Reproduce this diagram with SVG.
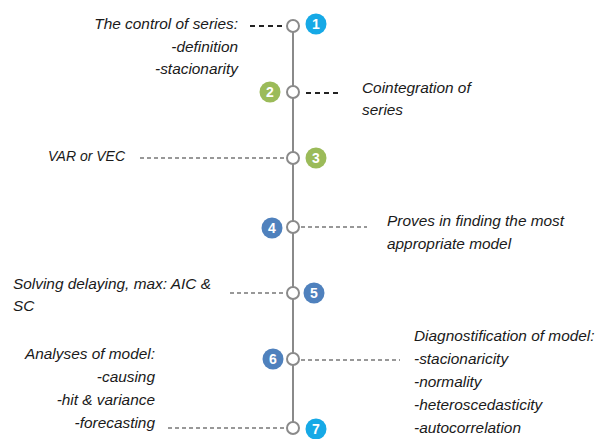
<svg xmlns="http://www.w3.org/2000/svg" width="602" height="439" viewBox="0 0 602 439">
<style>
.t{font-family:"Liberation Sans",Arial,sans-serif;font-style:italic;font-size:15.4px;fill:#1a1a1a}
.r{text-anchor:end}
.ring{fill:#fff;stroke:#8a8a8a;stroke-width:2}
.n{font-family:"Liberation Sans",Arial,sans-serif;font-weight:bold;font-size:14px;fill:#fff;text-anchor:middle}
.d1{stroke:#222;stroke-width:1.8;stroke-dasharray:5 4;fill:none}
.d2{stroke:#333;stroke-width:1.2;stroke-dasharray:4 3;fill:none}
.cyan{fill:#16A9E6}.green{fill:#9BBB59}.blue{fill:#4F81BD}
</style>
<rect width="602" height="439" fill="#fff"/>
<g id="connectors">
<line x1="293" y1="27" x2="293" y2="428" stroke="#8a8a8a" stroke-width="2"/>
<line class="d1" x1="250" y1="26" x2="286" y2="26"/>
<line class="d1" x1="306" y1="93" x2="339" y2="93"/>
<line class="d2" x1="140" y1="158" x2="286" y2="158"/>
<line class="d2" x1="301" y1="227" x2="367" y2="227"/>
<line class="d2" x1="230" y1="293" x2="286" y2="293"/>
<line class="d2" x1="301" y1="360" x2="400" y2="360"/>
<line class="d2" x1="168" y1="428" x2="286" y2="428"/>
</g>
<g id="node1">
<circle class="ring" cx="293" cy="26" r="6"/>
<circle class="cyan" cx="316" cy="24" r="10.5"/>
<text class="n" x="316" y="29">1</text>
<text class="t r" x="238" y="29">The control of series:</text>
<text class="t r" x="238" y="52">-definition</text>
<text class="t r" x="238" y="74">-stacionarity</text>
</g>
<g id="node2">
<circle class="ring" cx="293" cy="92" r="6"/>
<circle class="green" cx="270" cy="92" r="10.5"/>
<text class="n" x="270" y="97">2</text>
<text class="t" x="362" y="93">Cointegration of</text>
<text class="t" x="362" y="115">series</text>
</g>
<g id="node3">
<circle class="ring" cx="293" cy="158" r="6"/>
<circle class="green" cx="316" cy="158" r="10.5"/>
<text class="n" x="316" y="163">3</text>
<text class="t" x="48" y="161" textLength="77" lengthAdjust="spacingAndGlyphs">VAR or VEC</text>
</g>
<g id="node4">
<circle class="ring" cx="293" cy="227" r="6"/>
<circle class="blue" cx="272" cy="228" r="10.5"/>
<text class="n" x="272" y="233">4</text>
<text class="t" x="387" y="226">Proves in finding the most</text>
<text class="t" x="387" y="249">appropriate model</text>
</g>
<g id="node5">
<circle class="ring" cx="293" cy="293" r="6"/>
<circle class="blue" cx="314" cy="293" r="10.5"/>
<text class="n" x="314" y="298">5</text>
<text class="t" x="13" y="289">Solving delaying, max: AIC &amp;</text>
<text class="t" x="13" y="311">SC</text>
</g>
<g id="node6">
<circle class="ring" cx="293" cy="359" r="6"/>
<circle class="blue" cx="273" cy="359" r="10.5"/>
<text class="n" x="273" y="364">6</text>
<text class="t r" x="155" y="359">Analyses of model:</text>
<text class="t r" x="155" y="382">-causing</text>
<text class="t r" x="155" y="405">-hit &amp; variance</text>
<text class="t r" x="155" y="428">-forecasting</text>
<text class="t" x="414" y="341">Diagnostification of model:</text>
<text class="t" x="414" y="364">-stacionaricity</text>
<text class="t" x="414" y="387">-normality</text>
<text class="t" x="414" y="410">-heteroscedasticity</text>
<text class="t" x="414" y="433">-autocorrelation</text>
</g>
<g id="node7">
<circle class="ring" cx="293" cy="428" r="6"/>
<circle class="cyan" cx="316" cy="429" r="10.5"/>
<text class="n" x="316" y="434">7</text>
</g>
</svg>
